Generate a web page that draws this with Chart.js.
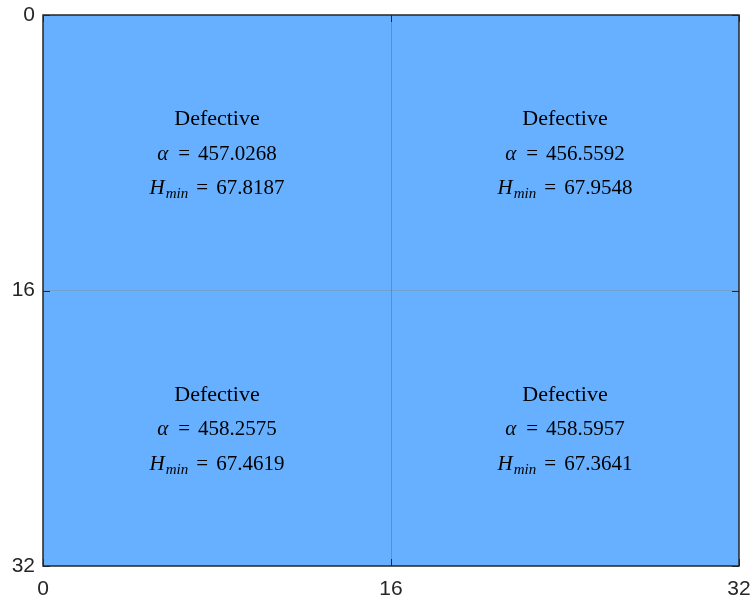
<!DOCTYPE html>
<html>
<head>
<meta charset="utf-8">
<script src="https://cdn.jsdelivr.net/npm/chart.js@4/dist/chart.umd.min.js"></script>
<style>
  html, body { margin: 0; padding: 0; background: #ffffff; }
  #wrap { width: 751px; height: 598px; }
</style>
</head>
<body>
<div id="wrap"><canvas id="c" width="751" height="598"></canvas></div>
<script>
// Grid layout: 2 x 2 blocks on a 32 x 32 pixel map
const colEdges = [0, 16, 32];
const rowEdges = [0, 16, 32];
const tickValues = [0, 16, 32];

// Block results, row by row (top-left, top-right, bottom-left, bottom-right)
const statusLabels = ['Defective', 'Defective', 'Defective', 'Defective'];
const alphaValues = [457.0268, 456.5592, 458.2575, 458.5957];
const hminValues = [67.8187, 67.9548, 67.4619, 67.3641];

const cellColor = '#66b0ff';
const axisColor = '#262626';
const serif = '"Liberation Serif", "DejaVu Serif", serif';
const titleSize = 22;
const mathSize = 21;

// Fills each block beneath the grid lines
const cellPlugin = {
  id: 'cells',
  beforeDraw(chart) {
    const { ctx, scales: { x, y } } = chart;
    ctx.save();
    ctx.fillStyle = cellColor;
    for (let r = 0; r < rowEdges.length - 1; r++) {
      for (let c = 0; c < colEdges.length - 1; c++) {
        const x0 = x.getPixelForValue(colEdges[c]);
        const x1 = x.getPixelForValue(colEdges[c + 1]);
        const y0 = y.getPixelForValue(rowEdges[r]);
        const y1 = y.getPixelForValue(rowEdges[r + 1]);
        ctx.fillRect(Math.min(x0, x1), Math.min(y0, y1), Math.abs(x1 - x0), Math.abs(y1 - y0));
      }
    }
    ctx.restore();
  }
};

// Writes each block's result text and draws the frame with inward ticks
const labelPlugin = {
  id: 'blockLabels',
  afterDatasetsDraw(chart) {
    const { ctx, scales: { x, y } } = chart;
    ctx.save();
    ctx.fillStyle = '#000000';
    ctx.textBaseline = 'alphabetic';
    const ncol = colEdges.length - 1;
    const rm = `${mathSize}px ${serif}`;
    const it = `italic ${mathSize}px ${serif}`;
    for (let i = 0; i < alphaValues.length; i++) {
      const r = Math.floor(i / ncol), c = i % ncol;
      const cx = x.getPixelForValue((colEdges[c] + colEdges[c + 1]) / 2);
      const cy = y.getPixelForValue((rowEdges[r] + rowEdges[r + 1]) / 2);
      const gap = 34.5;
      const base = 7;

      ctx.font = `${titleSize}px ${serif}`;
      ctx.textAlign = 'center';
      ctx.fillText(statusLabels[i], cx, cy - gap + base);

      drawRuns(ctx, [
        { t: 'α', f: it },
        { t: '=', f: rm, before: 10, after: 8 },
        { t: alphaValues[i].toFixed(4), f: rm }
      ], cx, cy + base);

      drawRuns(ctx, [
        { t: 'H', f: it },
        { t: 'min', f: `italic ${Math.round(mathSize * 0.72)}px ${serif}`, dy: 4, before: 1 },
        { t: '=', f: rm, before: 8, after: 8 },
        { t: hminValues[i].toFixed(4), f: rm }
      ], cx, cy + gap + base);
    }
    ctx.restore();
  },
  afterDraw(chart) {
    const { ctx, chartArea: a, scales: { x, y } } = chart;
    ctx.save();
    ctx.strokeStyle = axisColor;
    ctx.lineWidth = 1;
    const len = 7;
    ctx.beginPath();
    tickValues.forEach(v => {
      const px = Math.round(x.getPixelForValue(v)) + 0.5;
      ctx.moveTo(px, a.bottom); ctx.lineTo(px, a.bottom - len);
      ctx.moveTo(px, a.top); ctx.lineTo(px, a.top + len);
      const py = Math.round(y.getPixelForValue(v)) + 0.5;
      ctx.moveTo(a.left, py); ctx.lineTo(a.left + len, py);
      ctx.moveTo(a.right, py); ctx.lineTo(a.right - len, py);
    });
    ctx.stroke();
    ctx.lineWidth = 1.5;
    ctx.strokeRect(a.left, a.top, a.right - a.left, a.bottom - a.top);
    ctx.restore();
  }
};

function drawRuns(ctx, runs, cx, baseY) {
  let total = 0;
  runs.forEach(r => {
    ctx.font = r.f;
    r.w = ctx.measureText(r.t).width;
    total += (r.before || 0) + r.w + (r.after || 0);
  });
  let px = cx - total / 2;
  ctx.textAlign = 'left';
  runs.forEach(r => {
    px += r.before || 0;
    ctx.font = r.f;
    ctx.fillText(r.t, px, baseY + (r.dy || 0));
    px += r.w + (r.after || 0);
  });
}

const innerGrid = {
  display: true,
  drawTicks: false,
  color: ctx => (ctx.tick && ctx.tick.value > 0 && ctx.tick.value < 32) ? 'rgba(38,38,38,0.22)' : 'rgba(0,0,0,0)',
  lineWidth: 1
};

const tickFont = { family: '"Liberation Sans", Arial, sans-serif', size: 21 };

new Chart(document.getElementById('c'), {
  type: 'scatter',
  data: { datasets: [{ data: [], pointRadius: 0 }] },
  options: {
    responsive: false,
    animation: false,
    layout: { padding: { top: 15, right: 12, left: 0, bottom: 0 } },
    plugins: { legend: { display: false }, tooltip: { enabled: false } },
    scales: {
      x: {
        type: 'linear', min: 0, max: 32,
        grid: innerGrid,
        border: { display: false },
        afterBuildTicks: s => { s.ticks = tickValues.map(v => ({ value: v })); },
        afterFit: s => { s.height = 32; s.paddingLeft = 0; s.paddingRight = 0; },
        ticks: { padding: 11, color: axisColor, font: tickFont, maxRotation: 0 }
      },
      y: {
        type: 'linear', min: 0, max: 32, reverse: true,
        grid: innerGrid,
        border: { display: false },
        afterBuildTicks: s => { s.ticks = tickValues.map(v => ({ value: v })); },
        afterFit: s => { s.width = 43; s.paddingTop = 0; s.paddingBottom = 0; },
        ticks: { padding: 8, color: axisColor, font: tickFont }
      }
    }
  },
  plugins: [cellPlugin, labelPlugin]
});
</script>
</body>
</html>
